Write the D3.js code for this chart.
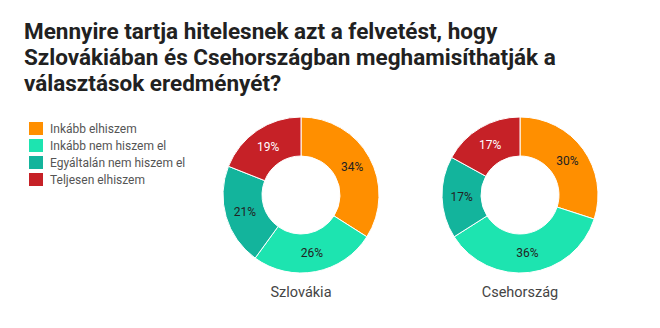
<!DOCTYPE html>
<html>
<head>
<meta charset="utf-8">
<script src="https://cdn.jsdelivr.net/npm/d3@7"></script>
<style>
  html, body { margin: 0; padding: 0; background: #fff; }
  svg { display: block; font-family: Roboto, "Noto Sans", sans-serif; }
</style>
</head>
<body>
<svg id="chart" width="660" height="328"></svg>
<script>
const titleLines = [
  "Mennyire tartja hitelesnek azt a felvetést, hogy",
  "Szlovákiában és Csehországban meghamisíthatják a",
  "választások eredményét?"
];
const answers = ["Inkább elhiszem", "Inkább nem hiszem el", "Egyáltalán nem hiszem el", "Teljesen elhiszem"];
const colors = ["#ff8f00", "#1de4b0", "#13b49c", "#c62127"];
const countries = ["Szlovákia", "Csehország"];
const slovakia = [34, 26, 21, 19];
const czechia = [30, 36, 17, 17];
const seriesValues = [slovakia, czechia];

const svg = d3.select("#chart");

// Title
svg.append("g")
  .selectAll("text")
  .data(titleLines)
  .join("text")
  .attr("x", 24)
  .attr("y", (d, i) => 38.5 + i * 26)
  .attr("font-size", 22.5)
  .attr("font-weight", 700)
  .attr("fill", "#212121")
  .text(d => d);

// Legend
const color = d3.scaleOrdinal().domain(answers).range(colors);
const legend = svg.append("g").attr("transform", "translate(29,122)");
const rows = legend.selectAll("g").data(answers).join("g")
  .attr("transform", (d, i) => `translate(0,${i * 17})`);
rows.append("rect").attr("width", 14).attr("height", 13).attr("fill", d => color(d));
rows.append("text").attr("x", 21).attr("y", 10.5)
  .attr("font-size", 12).attr("fill", "#555").text(d => d);

// Donuts
const centerX = d3.scalePoint().domain(countries).range([301, 520]);
const outerR = 78, innerR = 39, cy = 195;
const pie = d3.pie().sort(null).value(d => d.value);
const arc = d3.arc().innerRadius(innerR).outerRadius(outerR);

countries.forEach((country, ci) => {
  const data = answers.map((a, i) => ({ answer: a, value: seriesValues[ci][i] }));
  const g = svg.append("g").attr("transform", `translate(${centerX(country)},${cy})`);
  const arcs = pie(data);
  g.selectAll("path").data(arcs).join("path")
    .attr("d", arc)
    .attr("fill", d => color(d.data.answer))
    .attr("stroke", "#fff")
    .attr("stroke-width", 1);
  g.selectAll("text.pct").data(arcs).join("text")
    .attr("class", "pct")
    .attr("transform", d => `translate(${arc.centroid(d)})`)
    .attr("text-anchor", "middle")
    .attr("dy", "0.35em")
    .attr("font-size", 12)
    .attr("fill", d => d.data.answer === "Teljesen elhiszem" ? "#fff" : "#222")
    .text(d => d.data.value + "%");
  svg.append("text")
    .attr("x", centerX(country))
    .attr("y", 297)
    .attr("text-anchor", "middle")
    .attr("font-size", 14.5)
    .attr("fill", "#444")
    .text(country);
});
</script>
</body>
</html>
